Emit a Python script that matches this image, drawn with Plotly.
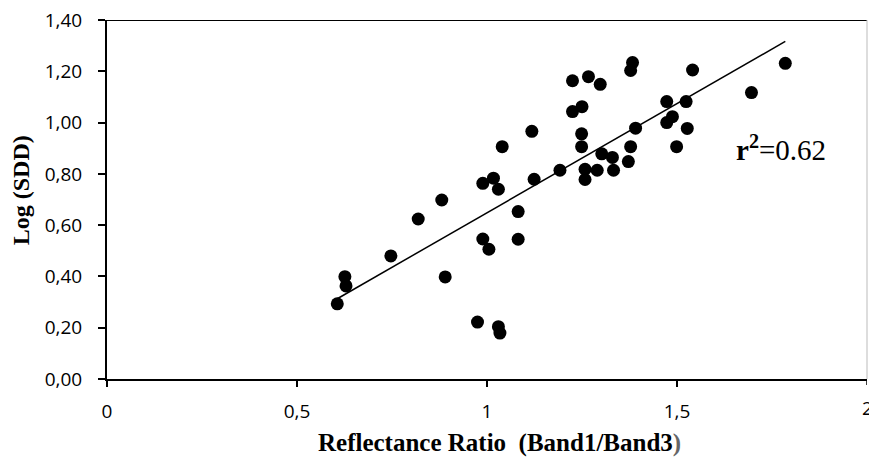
import numpy as np
import plotly.graph_objects as go

# Reflectance ratio (Band1/Band3) and Log(SDD)
ratio = [0.606, 0.626, 0.629, 0.747, 0.819, 0.881, 0.890, 0.975, 1.030, 1.034,
         0.989, 1.017, 1.030, 0.989, 1.005, 1.040, 1.082, 1.082, 1.118, 1.124,
         1.192, 1.225, 1.267, 1.298, 1.225, 1.250, 1.249, 1.249, 1.258, 1.258,
         1.290, 1.302, 1.330, 1.333, 1.372, 1.378, 1.391, 1.378, 1.383, 1.473,
         1.473, 1.488, 1.499, 1.541, 1.524, 1.527, 1.696, 1.785]
log_sdd = [0.293, 0.399, 0.363, 0.480, 0.624, 0.698, 0.398, 0.222, 0.204, 0.179,
           0.763, 0.783, 0.740, 0.546, 0.506, 0.906, 0.653, 0.545, 0.966, 0.779,
           0.814, 1.163, 1.179, 1.149, 1.043, 1.062, 0.956, 0.906, 0.818, 0.778,
           0.814, 0.878, 0.864, 0.814, 0.848, 0.906, 0.978, 1.203, 1.234, 1.082,
           1.000, 1.023, 0.906, 1.205, 1.082, 0.977, 1.117, 1.231]

x_tickvals = [0, 0.5, 1, 1.5]
x_ticktext = ["0", "0,5", "1", "1,5"]
x_last_tick = 2
x_last_text = "2"
y_tickvals = [0, 0.2, 0.4, 0.6, 0.8, 1.0, 1.2, 1.4]
y_ticktext = ["0,00", "0,20", "0,40", "0,60", "0,80", "1,00", "1,20", "1,40"]
r2_label = "<b>r<sup>2</sup></b>=0.62"

# Linear trend fitted to the data
slope, intercept = np.polyfit(ratio, log_sdd, 1)
trend_x = [min(ratio), max(ratio)]
trend_y = [slope * v + intercept for v in trend_x]

fig = go.Figure()
fig.add_trace(go.Scatter(x=trend_x, y=trend_y, mode="lines",
                         line=dict(color="black", width=1.5), showlegend=False))
fig.add_trace(go.Scatter(x=ratio, y=log_sdd, mode="markers",
                         marker=dict(color="black", size=13), showlegend=False))

tick_font = dict(family="Open Sans", size=19, color="black")
serif = "Liberation Serif"

fig.update_layout(
    width=869, height=459,
    margin=dict(l=107, r=2, t=20, b=80),
    plot_bgcolor="white", paper_bgcolor="white",
    xaxis=dict(range=[0, 2], tickvals=x_tickvals, ticktext=x_ticktext,
               showgrid=False, zeroline=False, showline=True, linecolor="black",
               linewidth=2, ticks="outside", ticklen=6, tickwidth=1.5,
               tickcolor="black", tickfont=tick_font, ticklabelstandoff=8),
    yaxis=dict(range=[0, 1.4], tickvals=y_tickvals, ticktext=y_ticktext,
               showgrid=False, zeroline=False, showline=True, linecolor="black",
               linewidth=2, ticks="outside", ticklen=7, tickwidth=1.5,
               tickcolor="black", tickfont=tick_font, ticklabelstandoff=12),
    shapes=[
        dict(type="line", xref="paper", yref="y", x0=0, x1=1, y0=1.4, y1=1.4,
             line=dict(color="black", width=2)),
        dict(type="line", xref="paper", yref="paper", x0=1, x1=1, y0=0, y1=1,
             line=dict(color="#bbbbbb", width=1)),
        dict(type="line", xref="x", yref="paper", x0=x_last_tick, x1=x_last_tick,
             y0=0, y1=-0.017, line=dict(color="black", width=1.5)),
    ],
    annotations=[
        dict(text=x_last_text, x=x_last_tick, y=0, xref="x", yref="paper",
             xanchor="center", yanchor="top", yshift=-14, showarrow=False,
             font=tick_font),
        dict(text=r2_label, x=1.65, y=0.9, xref="x", yref="y", xanchor="left",
             yanchor="middle", showarrow=False,
             font=dict(family=serif, size=29, color="black")),
        dict(text="<b>Reflectance Ratio  (Band1/Band3</b><span style='color:#666'><b>)</b></span>",
             x=0.516, y=-0.178, xref="paper", yref="paper", xanchor="center",
             yanchor="middle", showarrow=False,
             font=dict(family=serif, size=25, color="black")),
        dict(text="<b>Log (SDD)</b>", x=-0.113, y=0.526, xref="paper", yref="paper",
             xanchor="center", yanchor="middle", textangle=-90, showarrow=False,
             font=dict(family=serif, size=24, color="black")),
    ],
)

fig.write_html("out.html")
